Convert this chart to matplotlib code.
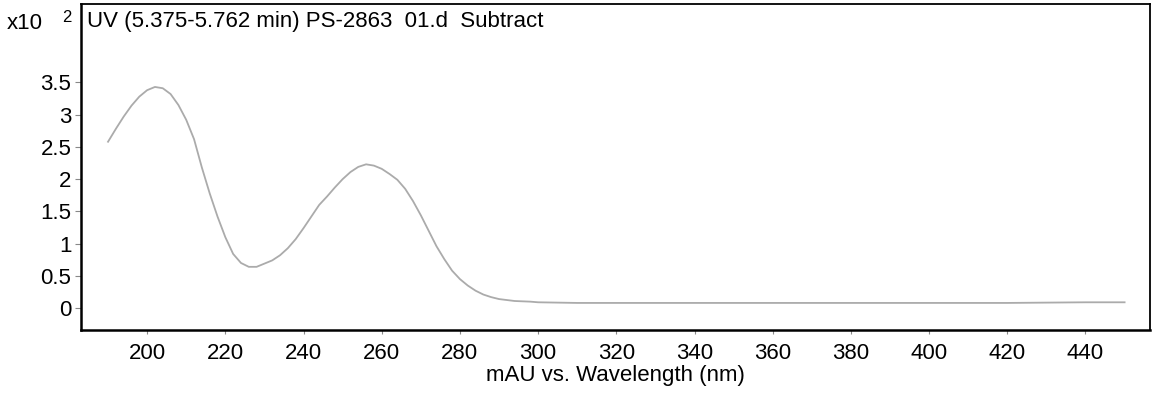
import matplotlib
matplotlib.use("Agg")
import matplotlib.pyplot as plt

wavelength = [190, 192, 194, 196, 198, 200, 202, 204, 206, 208, 210, 212, 214, 216, 218,
              220, 222, 224, 226, 228, 230, 232, 234, 236, 238, 240, 242, 244, 246, 248,
              250, 252, 254, 256, 258, 260, 262, 264, 266, 268, 270, 272, 274, 276, 278,
              280, 282, 284, 286, 288, 290, 294, 298, 300, 310, 320, 340, 360, 380, 400,
              420, 440, 450]
absorb = [2.58, 2.78, 2.97, 3.14, 3.28, 3.38, 3.43, 3.41, 3.32, 3.15, 2.92, 2.62, 2.18, 1.78, 1.42,
          1.10, 0.84, 0.70, 0.64, 0.64, 0.69, 0.74, 0.82, 0.93, 1.07, 1.24, 1.42, 1.60, 1.73, 1.87,
          2.00, 2.11, 2.19, 2.23, 2.21, 2.16, 2.08, 1.99, 1.85, 1.66, 1.44, 1.20, 0.96, 0.76, 0.58,
          0.45, 0.35, 0.27, 0.21, 0.17, 0.14, 0.11, 0.10, 0.09, 0.08, 0.08, 0.08, 0.08, 0.08, 0.08,
          0.08, 0.09, 0.09]
x_ticks = [200, 220, 240, 260, 280, 300, 320, 340, 360, 380, 400, 420, 440]
y_ticks = [0, 0.5, 1, 1.5, 2, 2.5, 3, 3.5]
y_ticklabels = ["0", "0.5", "1", "1.5", "2", "2.5", "3", "3.5"]
title_text = "UV (5.375-5.762 min) PS-2863  01.d  Subtract"
x_label = "mAU vs. Wavelength (nm)"

plt.rcParams['font.family'] = ['Liberation Sans', 'DejaVu Sans']

FS = 16
fig = plt.figure(figsize=(11.53, 3.94), dpi=100)
ax = fig.add_axes([0.0703, 0.1624, 0.9271, 0.828])
ax.plot(wavelength, absorb, color="#ababab", lw=1.3, solid_joinstyle="round")
ax.set_xlim(183.1, 456.5)
ax.set_ylim(-0.34, 4.72)
ax.set_xticks(x_ticks)
ax.set_xticklabels([str(v) for v in x_ticks], fontsize=FS)
ax.set_yticks(y_ticks)
ax.set_yticklabels(y_ticklabels, fontsize=FS)
ax.tick_params(axis='y', direction='out', length=4, width=0.8, color="#888888", pad=3)
ax.tick_params(axis='x', direction='out', length=3, width=0.8, color="#888888", pad=6)
for s in ['left', 'bottom']:
    ax.spines[s].set_linewidth(1.8)
for s in ['top', 'right']:
    ax.spines[s].set_linewidth(1.3)
ax.set_xlabel(x_label, fontsize=FS, labelpad=1)
ax.text(0.006, 0.945, title_text, transform=ax.transAxes, fontsize=FS,
        ha='left', va='center')
fig.text(0.006, 0.940, "x10", fontsize=FS, ha='left', va='center')
fig.text(0.054, 0.956, "2", fontsize=12, ha='left', va='center')
fig.savefig("out.png", dpi=100, facecolor="white")
